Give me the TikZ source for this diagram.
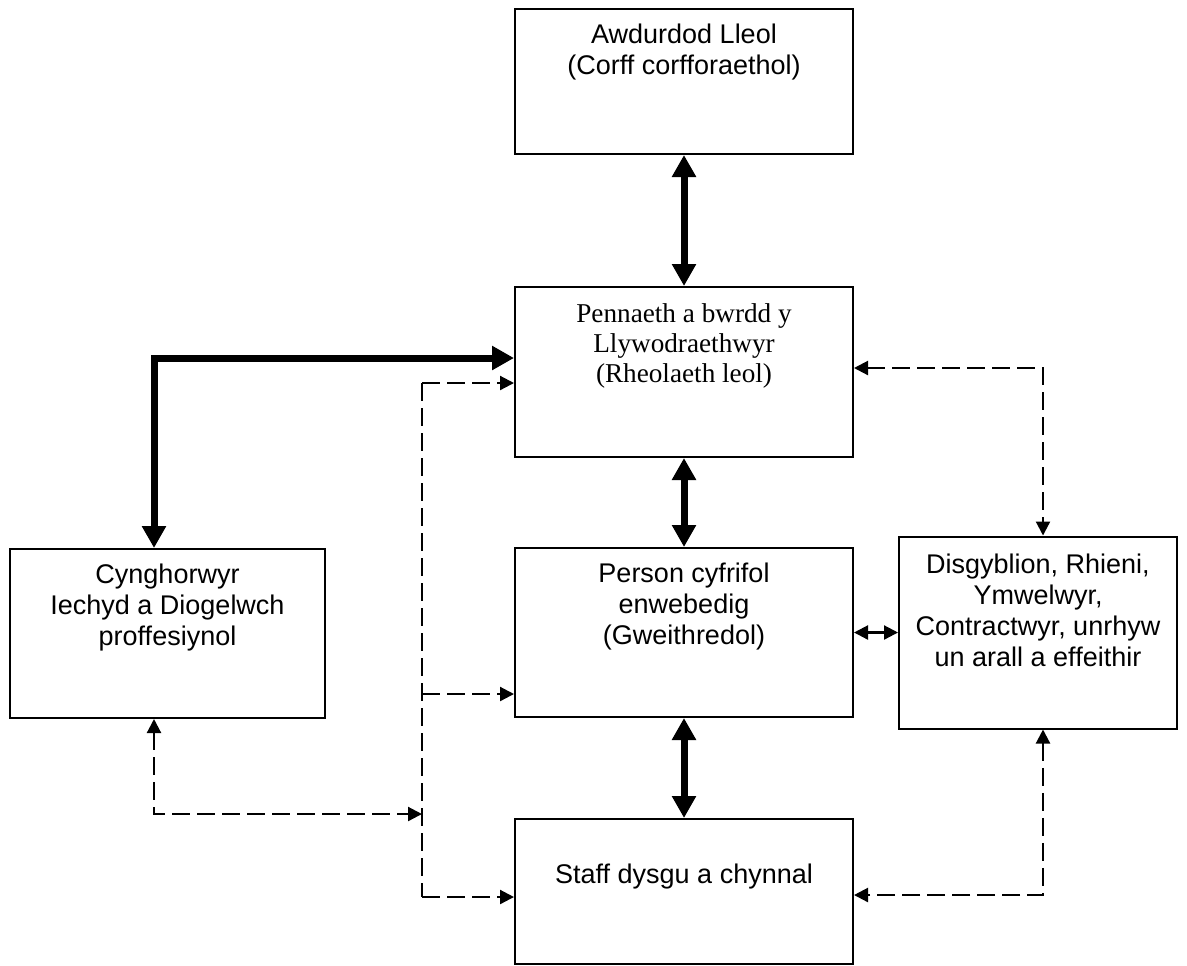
\documentclass[tikz,border=0pt]{standalone}
\usepackage{fontspec}
\setmainfont{Liberation Sans}
\newfontfamily\timesfont{Liberation Serif}
\usepackage{tikz}
\usetikzlibrary{positioning,arrows.meta}
\tikzstyle{box} = [rectangle, draw=black, line width=1pt, inner sep=0pt, minimum width=169pt]
\tikzstyle{boxtext} = [anchor=north, align=center, inner sep=0pt, font=\fontsize{13.5}{15.5}\selectfont]
\tikzstyle{bigarrow} = [line width=3.5pt, {Triangle[length=11pt,width=11.5pt]}-{Triangle[length=11pt,width=11.5pt]}]
\tikzstyle{arrow} = [line width=1.1pt, >={Triangle[length=7pt,width=7pt]}, ->]
\tikzstyle{dasharrow} = [arrow, dash pattern=on 9pt off 3.5pt]

\begin{document}
\begin{tikzpicture}[x=0.5pt,y=-0.5pt]
\useasboundingbox (0,0) rectangle (1187,965);
\node[box,minimum height=72.5pt] (lleol) at (684,81.5) {};
\node[box,minimum height=85pt] (pennaeth) at (lleol) [xshift=0pt,yshift=-145.25pt] {};
\node[box,minimum height=84.5pt] (person) at (pennaeth) [xshift=0pt,yshift=-130.25pt] {};
\node[box,minimum height=72.5pt] (staff) at (person) [xshift=0pt,yshift=-129.5pt] {};
\node[box,minimum width=157.5pt,minimum height=84.5pt] (cyngor) at (person) [xshift=-258.25pt,yshift=-0.5pt] {};
\node[box,minimum width=139pt,minimum height=96pt] (disgyb) at (person) [xshift=177pt,yshift=0pt] {};
% testun y blychau
\node[boxtext] (lleoltxt) at ([yshift=-8pt]lleol.north)
          {Awdurdod Lleol\\(Corff corfforaethol)};
\node[boxtext,font=\timesfont\fontsize{13.6}{15}\selectfont] (pennaethtxt) at ([yshift=-8.4pt]pennaeth.north)
          {Pennaeth a bwrdd y\\Llywodraethwyr\\(Rheolaeth leol)};
\node[boxtext] (persontxt) at ([yshift=-8pt]person.north)
          {Person cyfrifol\\enwebedig\\(Gweithredol)};
\node[boxtext] (stafftxt) at ([yshift=-23pt]staff.north)
          {Staff dysgu a chynnal};
\node[boxtext] (cyngortxt) at ([yshift=-8pt]cyngor.north)
          {Cynghorwyr\\Iechyd a Diogelwch\\proffesiynol};
\node[boxtext] (disgybtxt) at ([yshift=-9pt]disgyb.north)
          {Disgyblion, Rhieni,\\Ymwelwyr,\\Contractwyr, unrhyw\\un arall a effeithir};
\coordinate (spinetop) at (422,383);
\coordinate (junc) at (422,814);
\coordinate (spinebot) at (422,897);
\draw[bigarrow] (lleol) -- (pennaeth);
\draw[bigarrow] (pennaeth) -- (person);
\draw[bigarrow] (person) -- (staff);
\draw[bigarrow] ([xshift=-6.75pt]cyngor.north) |- ([yshift=7pt]pennaeth.west);
\draw[arrow,<->] (person.east) -- (person.east -| disgyb.west);
\draw[dasharrow,<->] ([yshift=2pt]pennaeth.east) -| ([xshift=2.5pt]disgyb.north);
\draw[dasharrow,<->] ([xshift=2.5pt]disgyb.south) |- ([yshift=-1.75pt]staff.east);
\draw[dasharrow,<->] ([xshift=-6.75pt]cyngor.south) |- (junc);
\draw[dasharrow,-] (spinetop) -- (spinebot);
\draw[dasharrow] (spinetop) -- (spinetop -| pennaeth.west);
\draw[dasharrow] ([yshift=-30.75pt]person.west -| spinetop) -- ([yshift=-30.75pt]person.west);
\draw[dasharrow] (spinebot) -- (spinebot -| staff.west);
\end{tikzpicture}
\end{document}
